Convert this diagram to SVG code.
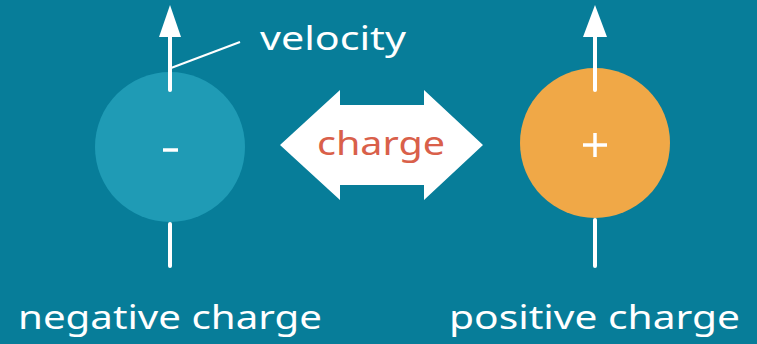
<svg xmlns="http://www.w3.org/2000/svg" width="757" height="344" viewBox="0 0 757 344">
<style>
.stem{stroke:#ffffff;stroke-width:4;stroke-linecap:round;fill:none}
.head{fill:#ffffff}
.lbl{font-family:"Noto Sans","Open Sans","DejaVu Sans",sans-serif;fill:#ffffff}
.sign{stroke:#ffffff;stroke-width:3.5;stroke-linecap:butt}
</style>
<rect x="0" y="0" width="757" height="344" fill="#077d99"/>
<g id="negative">
<circle cx="170" cy="147" r="75" fill="#1f9bb5"/>
<line class="stem" x1="170" y1="36" x2="170" y2="90"/>
<polygon class="head" points="170,5 159,37 181,37"/>
<line class="stem" x1="170" y1="224" x2="170" y2="266"/>
<line class="sign" x1="163" y1="150" x2="178" y2="150"/>
<text class="lbl" x="18" y="329" font-size="33" textLength="304" lengthAdjust="spacingAndGlyphs">negative charge</text>
</g>
<g id="velocity-label">
<line x1="171" y1="68" x2="240" y2="42" stroke="#ffffff" stroke-width="2"/>
<text class="lbl" x="260" y="50" font-size="32" textLength="146" lengthAdjust="spacingAndGlyphs">velocity</text>
</g>
<g id="positive">
<circle cx="595" cy="143" r="75" fill="#f0a847"/>
<line class="stem" x1="595" y1="36" x2="595" y2="90"/>
<polygon class="head" points="595,5 583,37 607,37"/>
<line class="stem" x1="595" y1="220" x2="595" y2="266"/>
<line class="sign" x1="583" y1="145" x2="607" y2="145"/>
<line class="sign" x1="595" y1="133" x2="595" y2="157"/>
<text class="lbl" x="449" y="329" font-size="33" textLength="291" lengthAdjust="spacingAndGlyphs">positive charge</text>
</g>
<g id="connectors">
<polygon fill="#ffffff" points="280,145 340,90 340,105 424,105 424,90 483,145 424,200 424,185 340,185 340,200"/>
<text x="317" y="155" font-family="'Noto Sans','Open Sans',sans-serif" font-size="32" fill="#d9604a" textLength="128" lengthAdjust="spacingAndGlyphs">charge</text>
</g>
</svg>
